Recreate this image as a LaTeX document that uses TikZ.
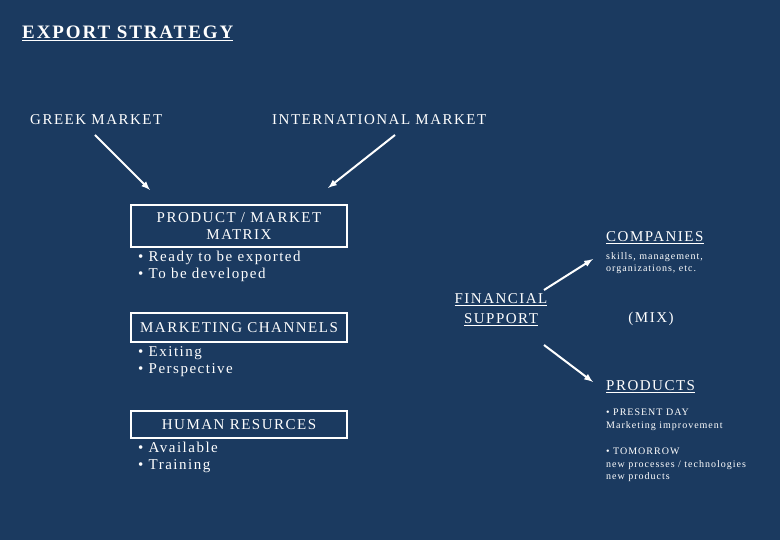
\documentclass[tikz,border=0pt]{standalone}
\usepackage{fontspec}
\setmainfont[LetterSpace=10]{Liberation Serif}
\begin{document}
\begin{tikzpicture}[x=1pt,y=-1pt,
  txt/.style={text=white,inner sep=0pt,anchor=west,font=\fontsize{15}{17}\selectfont},
  sm/.style={text=white,inner sep=0pt,anchor=west,font=\fontsize{10}{12.5}\selectfont},
  bx/.style={draw=white,line width=1.2pt,text=white,align=center,font=\fontsize{15}{17}\selectfont},
  arr/.style={draw=white,line width=2pt,-latex}]
\definecolor{bg}{HTML}{1B3A60}
\fill[bg] (0,0) rectangle (780,540);
\useasboundingbox (0,0) rectangle (780,540);
\node[txt,font=\bfseries\fontsize{19}{20}\selectfont] (title) at (22,33) {\underline{EXPORT STRATEGY}};
\node[txt] (greek) at (30,120) {GREEK MARKET};
\node[txt] (intl) at (272,120) {INTERNATIONAL MARKET};
\node[bx,minimum width=216,minimum height=42] (pm) at (239,226) {PRODUCT / MARKET\\MATRIX};
\node[bx,minimum width=216,minimum height=29] (mc) at (239,327.5) {MARKETING CHANNELS};
\node[bx,minimum width=216,minimum height=27] (hr) at (239,424.5) {HUMAN RESURCES};
\coordinate (g1) at (95,135); \coordinate (g2) at (150,190);
\coordinate (i1) at (395,135); \coordinate (i2) at (328,188);
\draw[arr] (g1) -- (g2);
\draw[arr] (i1) -- (i2);
\node[txt,align=left,anchor=north west] (b1) at (138,251) {• Ready to be exported\\• To be developed};
\node[txt,align=left,anchor=north west] (b2) at (138,346) {• Exiting\\• Perspective};
\node[txt,align=left,anchor=north west] (b3) at (138,442) {• Available\\• Training};
\node[text=white,align=center,font=\fontsize{15}{20}\selectfont] (fin) at (501,310) {\underline{FINANCIAL}\\\underline{SUPPORT}};
\node[txt] (comp) at (606,238) {\underline{COMPANIES}};
\node[sm,align=left,anchor=north west] (skills) at (606,252) {skills, management,\\organizations, etc.};
\node[text=white,font=\fontsize{15}{17}\selectfont] (mix) at (651,319) {(MIX)};
\node[txt] (prod) at (606,387) {\underline{PRODUCTS}};
\node[sm,align=left,anchor=north west] (pd) at (606,409) {• PRESENT DAY\\Marketing improvement};
\node[sm,align=left,anchor=north west] (tm) at (606,448) {• TOMORROW\\new processes / technologies\\new products};
\coordinate (f1) at (544,290); \coordinate (f2) at (593,259);
\coordinate (f3) at (544,345); \coordinate (f4) at (593,382);
\draw[arr] (f1) -- (f2);
\draw[arr] (f3) -- (f4);
\end{tikzpicture}
\end{document}
